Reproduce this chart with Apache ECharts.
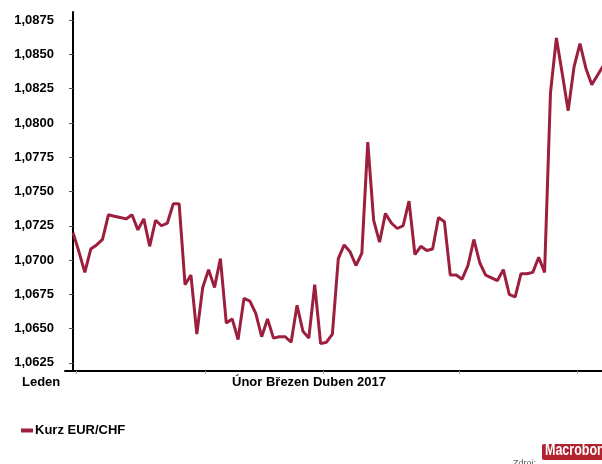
<!DOCTYPE html>
<html>
<head>
<meta charset="utf-8">
<script src="https://cdn.jsdelivr.net/npm/echarts@6/dist/echarts.min.js"></script>
<style>html,body{margin:0;padding:0;background:#fff;}#c{width:602px;height:464px;}</style>
</head>
<body>
<div id="c"></div>
<script>
const dates = [
  '2016-12-30',
  '2017-01-02','2017-01-03','2017-01-04','2017-01-05','2017-01-06','2017-01-09','2017-01-10','2017-01-11','2017-01-12','2017-01-13',
  '2017-01-16','2017-01-17','2017-01-18','2017-01-19','2017-01-20','2017-01-23','2017-01-24','2017-01-25','2017-01-26','2017-01-27',
  '2017-01-30','2017-01-31',
  '2017-02-01','2017-02-02','2017-02-03','2017-02-06','2017-02-07','2017-02-08','2017-02-09','2017-02-10','2017-02-13','2017-02-14',
  '2017-02-15','2017-02-16','2017-02-17','2017-02-20','2017-02-21','2017-02-22','2017-02-23','2017-02-24','2017-02-27','2017-02-28',
  '2017-03-01','2017-03-02','2017-03-03','2017-03-06','2017-03-07','2017-03-08','2017-03-09','2017-03-10','2017-03-13','2017-03-14',
  '2017-03-15','2017-03-16','2017-03-17','2017-03-20','2017-03-21','2017-03-22','2017-03-23','2017-03-24','2017-03-27','2017-03-28',
  '2017-03-29','2017-03-30','2017-03-31',
  '2017-04-03','2017-04-04','2017-04-05','2017-04-06','2017-04-07','2017-04-10','2017-04-11','2017-04-12','2017-04-13','2017-04-14',
  '2017-04-17','2017-04-18','2017-04-19','2017-04-20','2017-04-21','2017-04-24','2017-04-25','2017-04-26','2017-04-27','2017-04-28',
  '2017-05-01','2017-05-02','2017-05-03','2017-05-04','2017-05-05'
];
const eurChf = [
  1.0720,1.0706,1.0691,1.0708,1.0711,1.0715,1.0733,1.0732,1.0731,1.0730,
  1.0733,1.0722,1.0730,1.0710,1.0729,1.0725,1.0727,1.0741,1.0741,1.0682,
  1.0689,1.0646,1.0680,1.0693,1.0680,1.0701,1.0654,1.0657,1.0642,1.0672,
  1.0670,1.0661,1.0644,1.0657,1.0643,1.0644,1.0644,1.0640,1.0667,1.0648,
  1.0643,1.0682,1.0639,1.0640,1.0646,1.0701,1.0711,1.0706,1.0696,1.0705,
  1.0786,1.0729,1.0713,1.0734,1.0727,1.0723,1.0725,1.0743,1.0704,1.0710,
  1.0707,1.0708,1.0731,1.0728,1.0689,1.0689,1.0686,1.0696,1.0715,1.0698,
  1.0689,1.0687,1.0685,1.0693,1.0675,1.0673,1.0690,1.0690,1.0691,1.0702,
  1.0691,1.0822,1.0862,1.0836,1.0809,1.0841,1.0858,1.0840,1.0828,1.0835,
  1.0842
];
const yTicks = [1.0625,1.0650,1.0675,1.0700,1.0725,1.0750,1.0775,1.0800,1.0825,1.0850,1.0875];
const seriesName = 'Kurz EUR/CHF';
const xLabelLeft = 'Leden';
const xLabelMid = 'Únor Březen Duben 2017';

// month boundaries (between last trading day of a month and the first of the next)
const monthTicks = [];
dates.forEach((d, i) => {
  if (i > 0 && d.slice(0, 7) !== dates[i - 1].slice(0, 7)) monthTicks.push(i - 0.5);
});

const lineColor = '#9c1f3d';
const chart = echarts.init(document.getElementById('c'), null, {renderer: 'canvas'});
chart.setOption({
  animation: false,
  backgroundColor: '#fff',
  grid: {left: 65, right: 0, top: 12, bottom: 93, containLabel: false},
  xAxis: {
    type: 'value',
    min: -1.366,
    max: 89.74,
    axisLine: {onZero: false, lineStyle: {color: '#000', width: 2}},
    axisTick: {show: true, customValues: monthTicks, length: 3, lineStyle: {color: '#aaa', width: 1}},
    axisLabel: {show: false},
    splitLine: {show: false}
  },
  yAxis: {
    type: 'value',
    min: 1.0619,
    max: 1.0881,
    axisLine: {show: true, lineStyle: {color: '#000', width: 2}},
    axisTick: {show: true, customValues: yTicks, length: 4, lineStyle: {color: '#555', width: 1}},
    axisLabel: {
      customValues: yTicks,
      margin: 11,
      color: '#000',
      fontFamily: 'Liberation Sans, Arial, sans-serif',
      fontWeight: 'bold',
      fontSize: 13,
      padding: [0, 0, 5, 0],
      formatter: v => v.toFixed(4).replace('.', ',')
    },
    splitLine: {show: false}
  },
  legend: {
    left: 16,
    top: 419,
    icon: 'rect',
    itemWidth: 12,
    itemHeight: 4,
    textStyle: {
      color: '#000',
      fontFamily: 'Liberation Sans, Arial, sans-serif',
      fontWeight: 'bold',
      fontSize: 13,
      padding: [0, 0, 0, -3]
    },
    data: [seriesName]
  },
  series: [{
    name: seriesName,
    type: 'line',
    data: eurChf.map((v, i) => [i, v]),
    showSymbol: false,
    symbol: 'none',
    clip: true,
    lineStyle: {color: lineColor, width: 3},
    itemStyle: {color: lineColor}
  }],
  graphic: [
    {type: 'text', left: 22, top: 376, style: {text: xLabelLeft, fill: '#000', font: 'bold 13px "Liberation Sans", Arial, sans-serif'}},
    {type: 'text', left: 232, top: 376, style: {text: xLabelMid, fill: '#000', font: 'bold 13px "Liberation Sans", Arial, sans-serif'}},
    {type: 'text', x: 513, y: 459, style: {text: 'Zdroj:', fill: '#555', font: '9px "Liberation Sans", Arial, sans-serif'}},
    {type: 'rect', shape: {x: 542, y: 444, width: 70, height: 16, r: 2}, style: {fill: '#b1232f'}},
    {type: 'text', x: 545, y: 443, scaleX: 0.78, style: {text: 'Macrobond', fill: '#fff', font: 'bold 16px "Liberation Sans", Arial, sans-serif'}}
  ]
});
</script>
</body>
</html>
